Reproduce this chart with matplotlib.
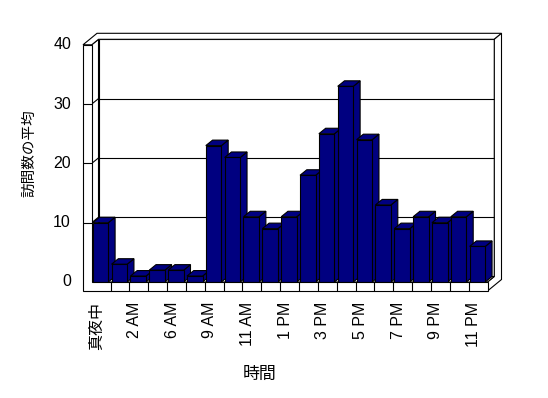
import matplotlib
matplotlib.use("Agg")
import matplotlib.pyplot as plt
from matplotlib.patches import Polygon
from matplotlib.transforms import offset_copy

# ---- data ----
hours = ['真夜中', '1 AM', '2 AM', '4 AM', '6 AM', '7 AM', '9 AM', '10 AM', '11 AM',
         '正午', '1 PM', '2 PM', '3 PM', '4 PM', '5 PM', '6 PM', '7 PM', '8 PM',
         '9 PM', '10 PM', '11 PM']
visits = [10, 3, 1, 2, 2, 1, 23, 21, 11, 9, 11, 18, 25, 33, 24, 13, 9, 11, 10, 11, 6]
y_ticks = [0, 10, 20, 30, 40]
x_title = '時間'
y_title = '訪問数の平均'

# ---- figure / front plane geometry (pixels) ----
W, H = 548, 398
fig = plt.figure(figsize=(W / 100, H / 100), dpi=100)
fx0, fx1, fy0, fy1 = 91.7, 487.5, 282.0, 44.8
ax = fig.add_axes([fx0 / W, 1 - fy0 / H, (fx1 - fx0) / W, (fy0 - fy1) / H])
n = len(hours)
ymax = y_ticks[-1]
ax.set_xlim(-0.5, n - 0.5)
ax.set_ylim(0, ymax)
ax.axis('off')

pxx = (fx1 - fx0) / n          # pixels per category
pxy = (fy0 - fy1) / ymax       # pixels per value unit
Dx, Dy = 6.8 / pxx, 5.5 / pxy      # plot depth
Ex, Ey = 7.2 / pxx, 6.0 / pxy      # back wall thickness
st = 8.7 / pxx                      # left wall thickness
ft = 9.0 / pxy                      # floor thickness
x0, x1 = -0.5, n - 0.5

LW = 0.8
z = [1]


def poly(pts, fc='white', ec='black'):
    p = Polygon(pts, closed=True, facecolor=fc, edgecolor=ec, linewidth=LW,
                clip_on=False, zorder=z[0], joinstyle='miter')
    z[0] += 1
    ax.add_patch(p)


def line(xs, ys):
    ax.plot(xs, ys, color='black', lw=LW, clip_on=False, zorder=z[0],
            solid_capstyle='butt')
    z[0] += 1


# back wall front face
poly([(x0 + Dx, Dy), (x1 + Dx, Dy), (x1 + Dx, ymax + Dy), (x0 + Dx, ymax + Dy)])
# left wall inner face
poly([(x0, 0), (x0, ymax), (x0 + Dx, ymax + Dy), (x0 + Dx, Dy)])
# top strip (left wall top + back wall top)
poly([(x0 - st, ymax), (x0, ymax), (x0 + Dx, ymax + Dy), (x1 + Dx, ymax + Dy),
      (x1 + Dx + Ex, ymax + Dy + Ey), (x0 - st + Dx + Ex, ymax + Dy + Ey)])
# right side
poly([(x1, 0), (x1 + Dx, Dy), (x1 + Dx, ymax + Dy), (x1 + Dx + Ex, ymax + Dy + Ey),
      (x1 + Dx + Ex, -ft + Dy + Ey), (x1, -ft)])
# floor top
poly([(x0, 0), (x1, 0), (x1 + Dx, Dy), (x0 + Dx, Dy)])
# gridlines on back wall and left wall
for v in y_ticks[1:-1]:
    line([x0 + Dx, x1 + Dx], [v + Dy, v + Dy])
    line([x0, x0 + Dx], [v, v + Dy])

# bars
g = 1.0 / pxx
bw = 15.6 / pxx
navy = '#000080'
for i, v in enumerate(visits):
    xl = i - 0.5 + g
    xr = xl + bw
    poly([(xr, 0), (xr, v), (xr + Dx, v + Dy), (xr + Dx, Dy)], fc=navy)
    poly([(xl, v), (xr, v), (xr + Dx, v + Dy), (xl + Dx, v + Dy)], fc=navy)
    poly([(xl, 0), (xr, 0), (xr, v), (xl, v)], fc=navy)

# front L-shaped slab (left wall front + floor front)
poly([(x0 - st, ymax), (x0, ymax), (x0, 0), (x1, 0), (x1, -ft), (x0 - st, -ft)])
for k in range(1, n):
    line([k - 0.5, k - 0.5], [0, -ft])
for v in y_ticks[1:-1]:
    line([x0 - st, x0], [v, v])

fam = ['Liberation Sans', 'Noto Sans CJK JP']
# y tick labels
ty = offset_copy(ax.transData, fig=fig, x=-12, y=0, units='dots')
for v in y_ticks:
    ax.text(x0 - st, v, str(v), transform=ty, ha='right', va='center',
            fontsize=11.5, family=fam)
# x tick labels
tx = offset_copy(ax.transData, fig=fig, x=-4.5, y=-10.5, units='dots')
for i in range(0, n, 2):
    ax.text(i, -ft, hours[i], transform=tx, rotation=90, ha='center', va='top',
            fontsize=11.5, family=fam)

fig.text(259.5 / W, 1 - 374 / H, x_title, ha='center', va='center',
         fontsize=12.2, family=fam)
fig.text(29.5 / W, 1 - 153 / H, y_title, ha='center', va='center',
         rotation=90, fontsize=10.5, family=fam)

fig.savefig('out.png', dpi=100)
